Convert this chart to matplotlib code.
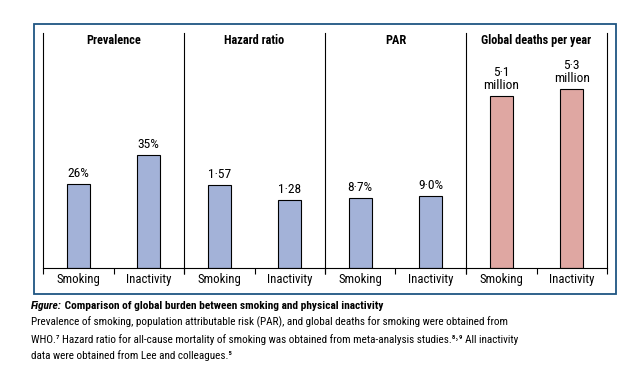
import matplotlib
matplotlib.use("Agg")
import matplotlib.pyplot as plt
from matplotlib import font_manager
from matplotlib.patches import Rectangle

# the original uses a condensed face; take one if it is installed
family = "Liberation Sans"
scale = 0.8
for name in ["Liberation Sans Narrow", "DejaVu Sans Condensed", "Roboto Condensed"]:
    try:
        font_manager.findfont(name, fallback_to_default=False)
        family = name
        scale = 1.0
        break
    except ValueError:
        pass
plt.rcParams['font.family'] = [family, 'DejaVu Sans']

panel_titles = ["Prevalence", "Hazard ratio", "PAR", "Global deaths per year"]
categories = ["Smoking", "Inactivity"]
values = [
    [26, 35],
    [1.57, 1.28],
    [8.7, 9.0],
    [5.1, 5.3],
]
value_labels = [
    ["26%", "35%"],
    ["1·57", "1·28"],
    ["8·7%", "9·0%"],
    ["5·1\nmillion", "5·3\nmillion"],
]
y_tops = [72.8, 4.44, 29.4, 6.96]
bar_colors = ["#a3b2d8", "#a3b2d8", "#a3b2d8", "#dfa7a2"]

caption_head = "Comparison of global burden between smoking and physical inactivity"
caption_body = ("Prevalence of smoking, population attributable risk (PAR), and global deaths for smoking were obtained from\n"
                "WHO.\u2077 Hazard ratio for all-cause mortality of smoking was obtained from meta-analysis studies.\u2078\u02d2\u2079 All inactivity\n"
                "data were obtained from Lee and colleagues.\u2075")

fig = plt.figure(figsize=(6.28, 3.84), dpi=100)

left = 43 / 628
right = 607 / 628
width = (right - left) / 4
bottom = (384 - 268) / 384
height = (268 - 33) / 384

for i in range(4):
    ax = fig.add_axes([left + i * width, bottom, width, height])
    x = [0, 1]
    ax.bar(x, values[i], width=0.33, color=bar_colors[i], edgecolor="black", linewidth=0.8)
    ax.set_xlim(-0.5, 1.5)
    ax.set_ylim(0, y_tops[i])
    for xi, v, lab in zip(x, values[i], value_labels[i]):
        ax.annotate(lab, (xi, v), xytext=(0, 3), textcoords="offset points",
                    ha="center", va="bottom", fontsize=9.7 * scale, linespacing=1.0)
    ax.text(0.5, 0.97, panel_titles[i], transform=ax.transAxes, ha="center", va="center",
            fontsize=8.8 * scale, fontweight="bold")
    ax.set_yticks([])
    ax.set_xticks([-0.5, 0.5, 1.5])
    ax.set_xticklabels([])
    ax.tick_params(axis="x", which="major", direction="out", length=4.5, width=0.8)
    ax.set_xticks(x, minor=True)
    ax.set_xticklabels(categories, minor=True, fontsize=9.2 * scale)
    ax.tick_params(axis="x", which="minor", length=0, pad=3.5)
    ax.spines["top"].set_visible(False)
    ax.spines["right"].set_visible(i == 3)
    for s in ax.spines.values():
        s.set_linewidth(0.8)

frame = Rectangle((34 / 628, 1 - 294 / 384), (616 - 34) / 628, (294 - 24) / 384,
                  transform=fig.transFigure, fill=False, edgecolor="#1f5582", linewidth=1.3)
fig.add_artist(frame)

t1 = fig.text(31 / 628, 1 - 311 / 384, "Figure:", fontsize=8.2 * scale, fontweight="bold",
              fontstyle="italic", va="bottom")
plt.annotate(" " + caption_head, xy=(1, 0), xycoords=t1, fontsize=8.2 * scale,
             fontweight="bold", va="bottom", annotation_clip=False)
fig.text(31 / 628, 1 - 317 / 384, caption_body, fontsize=8.0 * scale, va="top", linespacing=1.58)

fig.savefig("out.png", dpi=100)
